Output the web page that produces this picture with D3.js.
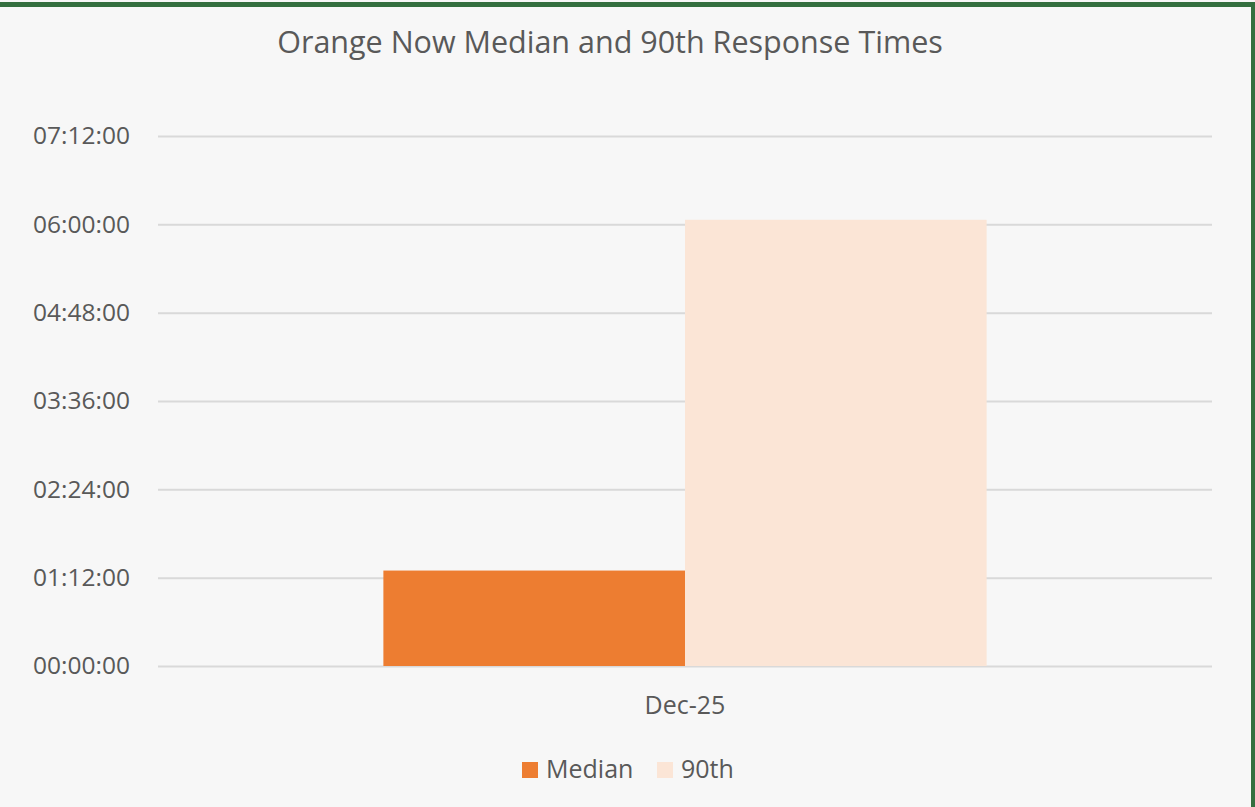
<!DOCTYPE html>
<html><head><meta charset="utf-8">
<script src="https://cdn.jsdelivr.net/npm/d3@7"></script>
<style>
html,body{margin:0;padding:0;background:#f7f7f7;}
svg{display:block;}
text{font-family:"Segoe UI","Open Sans","Noto Sans",sans-serif;fill:#595959;}
</style></head>
<body>
<script>
// Data (minutes)
const categories = ["Dec-25"];
const seriesNames = ["Median", "90th"];
const medianValues = [77.8];   // ~01:17:48
const p90Values = [363.7];     // ~06:03:42
const tickValues = [0, 72, 144, 216, 288, 360, 432];
const tickLabels = ["00:00:00","01:12:00","02:24:00","03:36:00","04:48:00","06:00:00","07:12:00"];
const colors = ["#ed7d31", "#fbe5d6"];

const W = 1255, H = 807;
const FONT = '"Segoe UI","Open Sans","Noto Sans",sans-serif';
const svg = d3.select("body").append("svg").attr("width", W).attr("height", H);
svg.append("rect").attr("width", W).attr("height", H).attr("fill", "#f7f7f7");
// frame border (top and right visible)
svg.append("rect").attr("x", 0).attr("y", 2).attr("width", W).attr("height", 5).attr("fill", "#346f3f");
svg.append("rect").attr("x", 1251).attr("y", 2).attr("width", 4).attr("height", H).attr("fill", "#346f3f");

const plot = {left: 158, right: 1212, top: 136, bottom: 666};
const y = d3.scaleLinear().domain([0, 432]).range([plot.bottom, plot.top]);
const x0 = d3.scaleBand().domain(categories).range([plot.left, plot.right]).paddingInner(0.272).paddingOuter(0.272);
const x1 = d3.scaleBand().domain(seriesNames).range([0, x0.bandwidth()]).padding(0);

// gridlines
const grid = svg.append("g").attr("transform", `translate(${plot.left},0)`)
  .call(d3.axisLeft(y).tickValues(tickValues).tickSize(-(plot.right - plot.left)).tickFormat(""));
grid.select(".domain").remove();
grid.selectAll("line").attr("stroke", "#d9d9d9").attr("stroke-width", 2);

// y labels
const yax = svg.append("g").attr("transform", `translate(130,0)`)
  .call(d3.axisLeft(y).tickValues(tickValues).tickSize(0).tickPadding(0).tickFormat((d,i) => tickLabels[i]));
yax.select(".domain").remove();
yax.selectAll("text").attr("font-size", 24.5).attr("fill", "#595959").attr("dy", "0.32em")
  .style("font-family", FONT);

// bars
const rows = categories.map((c, i) => ({cat: c, vals: [medianValues[i], p90Values[i]]}));
const g = svg.append("g");
rows.forEach(r => {
  g.selectAll(null).data(r.vals).enter().append("rect")
    .attr("x", (d, j) => x0(r.cat) + x1(seriesNames[j]))
    .attr("y", d => y(d))
    .attr("width", x1.bandwidth())
    .attr("height", d => y(0) - y(d))
    .attr("fill", (d, j) => colors[j]);
});

// x axis labels
const xax = svg.append("g").attr("transform", `translate(0,${plot.bottom})`)
  .call(d3.axisBottom(x0).tickSize(0).tickPadding(30));
xax.select(".domain").remove();
xax.selectAll("text").attr("font-size", 25).attr("fill", "#595959")
  .style("font-family", FONT);

// title
svg.append("text").attr("x", 610).attr("y", 53).attr("text-anchor", "middle")
  .attr("font-size", 30.5).text("Orange Now Median and 90th Response Times");

// legend
const legend = svg.append("g");
const legendX = [522, 657];
seriesNames.forEach((s, i) => {
  legend.append("rect").attr("x", legendX[i]).attr("y", 762).attr("width", 16).attr("height", 16).attr("fill", colors[i]);
  legend.append("text").attr("x", legendX[i] + 24).attr("y", 778).attr("font-size", 25).text(s);
});
</script>
</body></html>
